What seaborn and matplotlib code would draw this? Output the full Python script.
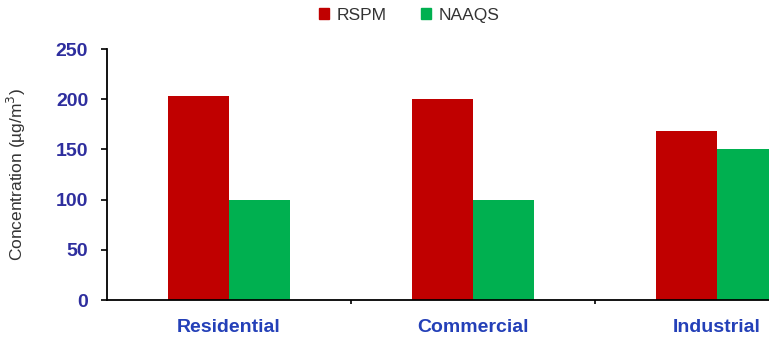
import pandas as pd
import seaborn as sns
import matplotlib.pyplot as plt
from matplotlib.patches import Patch
from matplotlib.ticker import FixedLocator

# Données
zones = ['Residential', 'Commercial', 'Industrial']
rspm = [203, 200, 168]
naaqs = [100, 100, 150]
series = ['RSPM', 'NAAQS']
colors = ['#C00000', '#00B050']
yticks = [0, 50, 100, 150, 200, 250]

df = pd.DataFrame({'zone': zones, 'RSPM': rspm, 'NAAQS': naaqs})
df_long = df.melt(id_vars='zone', value_vars=series, var_name='serie', value_name='conc')

sns.set_style('white')
plt.rcParams['font.family'] = ['Liberation Sans', 'DejaVu Sans']

fig = plt.figure(figsize=(7.69, 3.38), dpi=100)
# l'axe dépasse à droite : le graphique d'origine est rogné
ax = fig.add_axes([0.1391, 0.1124, 0.9519, 0.7426])

sns.barplot(data=df_long, x='zone', y='conc', hue='serie', palette=colors,
            width=0.5, gap=0, saturation=1, linewidth=0, ax=ax, legend=False)

ax.set_ylim(0, 250)
ax.set_xlim(-0.5, 2.5)
ax.set_yticks(yticks)
ax.set_xlabel('')
ax.set_ylabel('Concentration (µg/m$^3$)', fontsize=12.5, color='#333333')
ax.yaxis.set_label_coords(-0.108, 0.5)

for s in ['top', 'right']:
    ax.spines[s].set_visible(False)
for s in ['left', 'bottom']:
    ax.spines[s].set_color('black')
    ax.spines[s].set_linewidth(1.3)

ax.tick_params(axis='y', left=True, direction='out', length=4.5, width=1.2,
               color='black', pad=9, labelsize=14, labelcolor='#2E2E9E')
for t in ax.get_yticklabels():
    t.set_fontweight('bold')
ax.tick_params(axis='x', which='major', bottom=False, pad=10, labelsize=14,
               labelcolor='#2440B8')
for t in ax.get_xticklabels():
    t.set_fontweight('bold')
ax.xaxis.set_minor_locator(FixedLocator([0.5, 1.5]))
ax.tick_params(axis='x', which='minor', bottom=True, direction='out', length=3,
               width=1.2, color='black')

handles = [Patch(color=c, label=s) for c, s in zip(colors, series)]
fig.legend(handles=handles, loc='center', bbox_to_anchor=(0.532, 0.955), ncol=2,
           frameon=False, fontsize=12.5, handlelength=0.6, handleheight=0.6,
           handletextpad=0.4, columnspacing=2.0, labelcolor='#333333')

fig.savefig('out.png', dpi=100)
